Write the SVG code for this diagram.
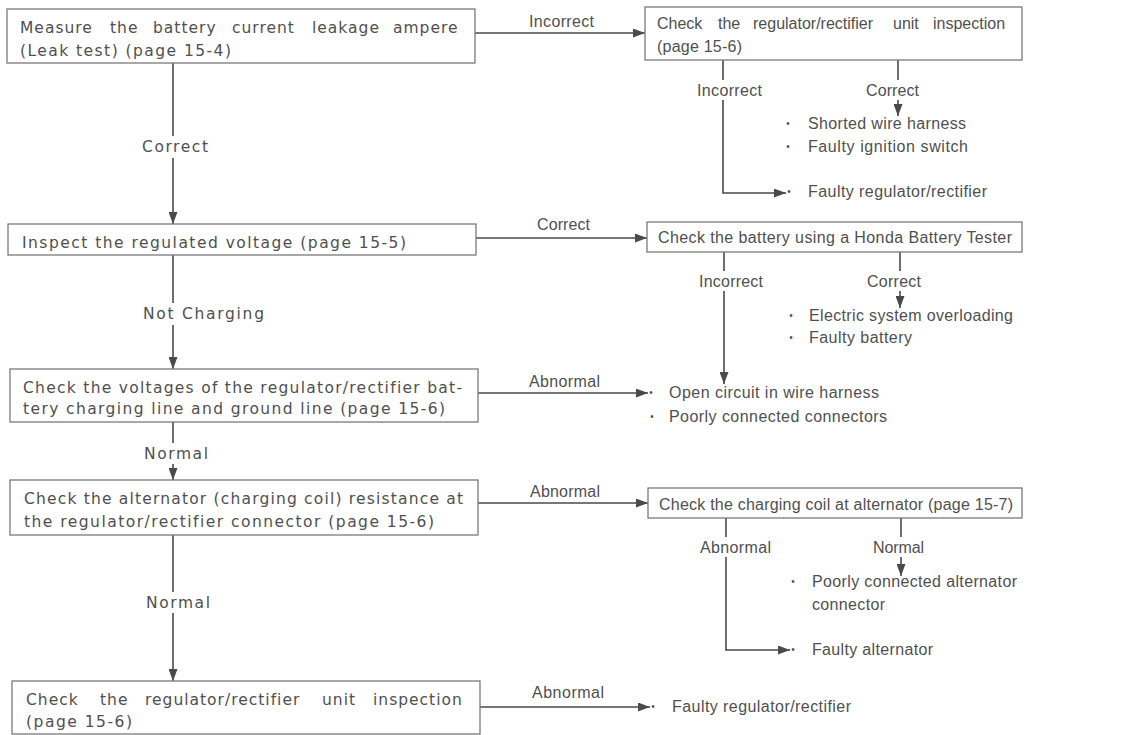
<svg xmlns="http://www.w3.org/2000/svg" width="1144" height="735" viewBox="0 0 1144 735">
<style>
text{font-family:"Liberation Sans",Arial,sans-serif;font-size:16px;fill:#505050}
.w{font-family:"DejaVu Sans","Liberation Sans",sans-serif;font-size:15.5px;letter-spacing:1px}
.box{fill:#fff;stroke:#7a7a7a;stroke-width:1.3}
.ln{fill:none;stroke:#4a4a4a;stroke-width:1.6}
.bg{fill:#fff}
.b{font-size:10px;text-anchor:middle}
</style>
<defs>
<marker id="ah" markerUnits="userSpaceOnUse" markerWidth="12" markerHeight="9" refX="12" refY="4.5" orient="auto">
<path d="M0,0 L12,4.5 L0,9 z" fill="#4a4a4a"/>
</marker>
</defs>
<rect width="1144" height="735" fill="#fff"/>
<g id="connectors">
<path class="ln" marker-end="url(#ah)" d="M173,63 V224"/>
<path class="ln" marker-end="url(#ah)" d="M173,255 V369"/>
<path class="ln" marker-end="url(#ah)" d="M173,422 V480"/>
<path class="ln" marker-end="url(#ah)" d="M173,535 V681"/>
<path class="ln" marker-end="url(#ah)" d="M475,33 H645"/>
<path class="ln" marker-end="url(#ah)" d="M476,238 H647"/>
<path class="ln" marker-end="url(#ah)" d="M478,393 H648"/>
<path class="ln" marker-end="url(#ah)" d="M478,503 H648"/>
<path class="ln" marker-end="url(#ah)" d="M480,707 H650"/>
<path class="ln" marker-end="url(#ah)" d="M723,60 V193 H786"/>
<path class="ln" marker-end="url(#ah)" d="M898,60 V116"/>
<path class="ln" marker-end="url(#ah)" d="M724,252 V384"/>
<path class="ln" marker-end="url(#ah)" d="M900,252 V308"/>
<path class="ln" marker-end="url(#ah)" d="M726,518 V650 H790"/>
<path class="ln" marker-end="url(#ah)" d="M901,518 V576"/>
<rect class="bg" x="140" y="136" width="72" height="22"/>
<rect class="bg" x="141" y="303" width="127" height="22"/>
<rect class="bg" x="142" y="443" width="70" height="21"/>
<rect class="bg" x="144" y="592" width="70" height="21"/>
<rect class="bg" x="695" y="80" width="70" height="20"/>
<rect class="bg" x="864" y="80" width="58" height="20"/>
<rect class="bg" x="697" y="271" width="69" height="20"/>
<rect class="bg" x="865" y="271" width="59" height="20"/>
<rect class="bg" x="698" y="537" width="76" height="20"/>
<rect class="bg" x="871" y="537" width="56" height="20"/>
<text class="w" x="142" y="152" textLength="67" lengthAdjust="spacing">Correct</text>
<text class="w" x="143" y="319" textLength="122" lengthAdjust="spacing">Not Charging</text>
<text class="w" x="144" y="459" textLength="65" lengthAdjust="spacing">Normal</text>
<text class="w" x="146" y="608" textLength="65" lengthAdjust="spacing">Normal</text>
<text x="529" y="27" textLength="65" lengthAdjust="spacing">Incorrect</text>
<text x="537" y="230" textLength="53" lengthAdjust="spacing">Correct</text>
<text x="529" y="387" textLength="71" lengthAdjust="spacing">Abnormal</text>
<text x="530" y="497" textLength="70" lengthAdjust="spacing">Abnormal</text>
<text x="532" y="698" textLength="72" lengthAdjust="spacing">Abnormal</text>
<text x="697" y="96" textLength="65" lengthAdjust="spacing">Incorrect</text>
<text x="866" y="96" textLength="53" lengthAdjust="spacing">Correct</text>
<text x="699" y="287" textLength="64" lengthAdjust="spacing">Incorrect</text>
<text x="867" y="287" textLength="54" lengthAdjust="spacing">Correct</text>
<text x="700" y="553" textLength="71" lengthAdjust="spacing">Abnormal</text>
<text x="873" y="553" textLength="51" lengthAdjust="spacing">Normal</text>
</g>
<g id="n1">
<rect class="box" x="7" y="9" width="468" height="54"/>
<text class="w" y="33"><tspan x="20">Measure</tspan> <tspan x="110">the</tspan> <tspan x="153">battery</tspan> <tspan x="232">current</tspan> <tspan x="312">leakage</tspan> <tspan x="393">ampere</tspan></text>
<text class="w" x="20" y="56" textLength="212" lengthAdjust="spacing">(Leak test) (page 15-4)</text>
</g>
<g id="n2">
<rect class="box" x="8" y="224" width="468" height="31"/>
<text class="w" x="22" y="248" textLength="385" lengthAdjust="spacing">Inspect the regulated voltage (page 15-5)</text>
</g>
<g id="n3">
<rect class="box" x="10" y="369" width="468" height="53"/>
<text class="w" x="23" y="393" textLength="440" lengthAdjust="spacing">Check the voltages of the regulator/rectifier bat-</text>
<text class="w" x="23" y="414" textLength="423" lengthAdjust="spacing">tery charging line and ground line (page 15-6)</text>
</g>
<g id="n4">
<rect class="box" x="10" y="480" width="468" height="55"/>
<text class="w" x="24" y="504" textLength="440" lengthAdjust="spacing">Check the alternator (charging coil) resistance at</text>
<text class="w" x="24" y="527" textLength="411" lengthAdjust="spacing">the regulator/rectifier connector (page 15-6)</text>
</g>
<g id="n5">
<rect class="box" x="12" y="681" width="468" height="53"/>
<text class="w" y="705"><tspan x="26">Check</tspan> <tspan x="100">the</tspan> <tspan x="145">regulator/rectifier</tspan> <tspan x="322">unit</tspan> <tspan x="373">inspection</tspan></text>
<text class="w" x="26" y="727" textLength="107" lengthAdjust="spacing">(page 15-6)</text>
</g>
<g id="r1">
<rect class="box" x="645" y="7" width="377" height="53"/>
<text y="29"><tspan x="657">Check</tspan> <tspan x="718">the</tspan> <tspan x="753">regulator/rectifier</tspan> <tspan x="893">unit</tspan> <tspan x="933">inspection</tspan></text>
<text x="657" y="52" textLength="85" lengthAdjust="spacing">(page 15-6)</text>
</g>
<g id="r1a">
<text class="b" x="788" y="127">•</text>
<text x="808" y="129" textLength="158" lengthAdjust="spacing">Shorted wire harness</text>
<text class="b" x="788" y="150">•</text>
<text x="808" y="152" textLength="160" lengthAdjust="spacing">Faulty ignition switch</text>
</g>
<g id="r1b">
<text class="b" x="789" y="195">•</text>
<text x="808" y="197" textLength="179" lengthAdjust="spacing">Faulty regulator/rectifier</text>
</g>
<g id="r2">
<rect class="box" x="647" y="222" width="375" height="30"/>
<text x="658" y="243" textLength="354" lengthAdjust="spacing">Check the battery using a Honda Battery Tester</text>
</g>
<g id="r2a">
<text class="b" x="791" y="319">•</text>
<text x="809" y="321" textLength="204" lengthAdjust="spacing">Electric system overloading</text>
<text class="b" x="791" y="341">•</text>
<text x="809" y="343" textLength="103" lengthAdjust="spacing">Faulty battery</text>
</g>
<g id="r3a">
<text class="b" x="651" y="396">•</text>
<text x="669" y="398" textLength="210" lengthAdjust="spacing">Open circuit in wire harness</text>
<text class="b" x="652" y="420">•</text>
<text x="669" y="422" textLength="218" lengthAdjust="spacing">Poorly connected connectors</text>
</g>
<g id="r4">
<rect class="box" x="648" y="488" width="374" height="30"/>
<text x="659" y="510" textLength="354" lengthAdjust="spacing">Check the charging coil at alternator (page 15-7)</text>
</g>
<g id="r4a">
<text class="b" x="793" y="585">•</text>
<text x="812" y="587" textLength="205" lengthAdjust="spacing">Poorly connected alternator</text>
<text x="812" y="610" textLength="73" lengthAdjust="spacing">connector</text>
</g>
<g id="r4b">
<text class="b" x="793" y="653">•</text>
<text x="812" y="655" textLength="121" lengthAdjust="spacing">Faulty alternator</text>
</g>
<g id="r5">
<text class="b" x="653" y="710">•</text>
<text x="672" y="712" textLength="179" lengthAdjust="spacing">Faulty regulator/rectifier</text>
</g>
</svg>
